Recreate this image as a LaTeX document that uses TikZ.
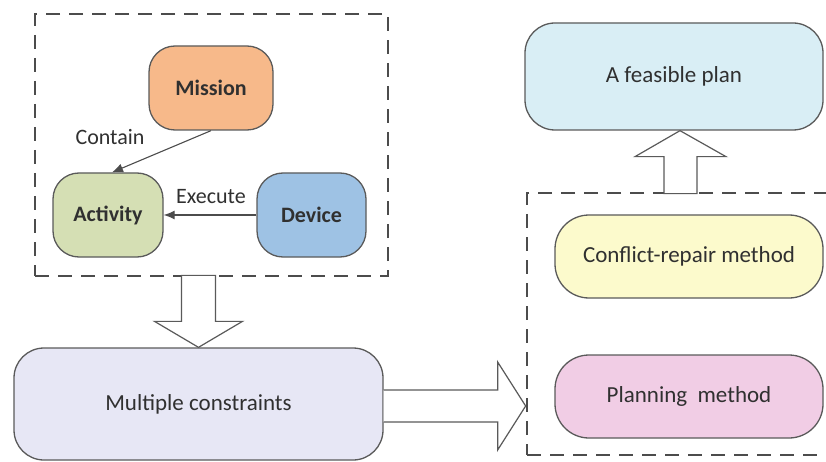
\documentclass[tikz,border=0pt]{standalone}
\usepackage{fontspec}
\setmainfont{Carlito}
\usetikzlibrary{arrows.meta,calc}

\definecolor{missionfill}{HTML}{F7B98A}
\definecolor{activityfill}{HTML}{D5DFB4}
\definecolor{devicefill}{HTML}{9EC2E4}
\definecolor{constrfill}{HTML}{E7E7F5}
\definecolor{planfill}{HTML}{D9EEF5}
\definecolor{repairfill}{HTML}{FCFACC}
\definecolor{methodfill}{HTML}{F1CDE5}
\definecolor{edgegray}{HTML}{5A5A5A}
\definecolor{textgray}{HTML}{303030}

\tikzset{
  box/.style={draw=edgegray, line width=1.3pt, rounded corners=#1,
    inner sep=0pt, text=textgray, font=\fontsize{23}{27}\selectfont},
  box/.default=28pt,
  inner/.style={box=26pt, font=\fontsize{22}{26}\selectfont\bfseries},
  group/.style={draw=black!70, line width=2pt, dash pattern=on 14pt off 9pt,
    inner sep=0pt},
  blockarrow/.style={draw=edgegray, fill=white, line width=1.2pt, line join=miter},
  link/.style={draw=black!70, line width=1.1pt,
    -{Latex[length=11pt,width=9pt]}},
  tag/.style={text=textgray, font=\fontsize{22}{26}\selectfont, inner sep=0pt}
}

\begin{document}
\begin{tikzpicture}[x=1pt, y=-1pt]
  \useasboundingbox (0,0) rectangle (826,462);

  % dashed groups
  \node[group, minimum width=353pt, minimum height=262pt] (lb) at (211.5,145) {};
  \node[group, minimum width=330pt, minimum height=262pt] (rb) at (692,324) {};

  % entities of the left group
  \node[inner, fill=missionfill, minimum width=124pt, minimum height=84pt] (mission) at (211,88) {Mission};
  \node[inner, fill=activityfill, minimum width=110pt, minimum height=84pt] (activity) at (108,215) {Activity};
  \node[inner, fill=devicefill, minimum width=109pt, minimum height=84pt] (device) at (311.5,215) {Device};

  \draw[link] (mission.south) -- ([xshift=4pt]activity.north);
  \draw[link] (device.west) -- (activity.east);
  \node[tag] (contain) at (110,137) {Contain};
  \node[tag] (execute) at (211,197) {Execute};

  % constraints and results
  \node[box=30pt, fill=constrfill, minimum width=369pt, minimum height=112pt] (mc) at (198.5,404) {Multiple constraints};
  \node[box=30pt, fill=planfill, minimum width=298pt, minimum height=107pt] (fp) at (674,76.5) {A feasible plan};
  \node[box=34pt, fill=repairfill, minimum width=268pt, minimum height=83pt] (cr) at (689,256.5) {Conflict-repair method};
  \node[box=34pt, fill=methodfill, minimum width=268pt, minimum height=83pt] (pm) at (689,396.5) {Planning~ method};

  % block arrows
  \draw[blockarrow] (mc.north) -- ++(-44,-26) -- ++(27,0) -- ++(0,-46)
    -- ++(34,0) -- ++(0,46) -- ++(27,0) -- cycle;
  \draw[blockarrow] ([yshift=14pt]mc.east) -- ++(114,0) -- ++(0,-28)
    -- ++(28,44) -- ++(-28,44) -- ++(0,-28) -- ++(-114,0);
  \draw[blockarrow] ([xshift=6pt]fp.south) -- ++(46,26) -- ++(-29,0) -- ++(0,37)
    -- ++(-33,0) -- ++(0,-37) -- ++(-29,0) -- cycle;
\end{tikzpicture}
\end{document}
